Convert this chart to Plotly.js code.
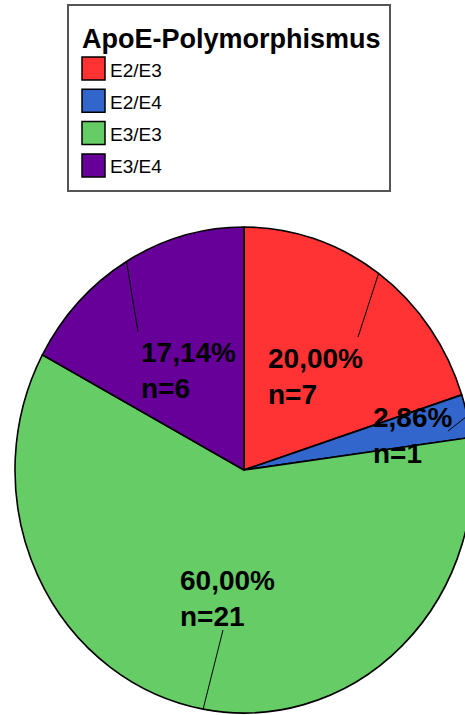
<!DOCTYPE html>
<html>
<head>
<meta charset="utf-8">
<script src="https://cdn.plot.ly/plotly-3.0.1.min.js"></script>
<style>
html,body{margin:0;padding:0;overflow:hidden;background:#fff;width:465px;height:715px;}
#chart{width:520px;height:715px;}
</style>
</head>
<body>
<div id="chart"></div>
<script>
// ---- data ----
const categories = ["E2/E3", "E2/E4", "E3/E3", "E3/E4"];
const counts = [7, 1, 21, 6];
const colors = ["#FF3333", "#3366CC", "#66CC66", "#660099"];
const legendTitle = "ApoE-Polymorphismus";

// ---- layout helpers (pixels -> paper) ----
const W = 520, H = 715;
const px = x => x / W;
const py = y => 1 - y / H;

const cx = 244, cy = 470, R = 229;   // horizontal radius
const K = 243 / 229;                 // vertical stretch of the original picture
const total = counts.reduce((a, b) => a + b, 0);
const pctText = counts.map(c => (c / total * 100).toFixed(2).replace('.', ',') + '%');

// label placement (left edge, vertical middle) and inner end of leader lines
const labelPos = [[266, 377], [371, 435], [178, 598], [139, 370]];
const leaderInner = [[358, 337], [448, 431], [223, 630], [138, 332]];

const annotations = [];
const shapes = [];
const FONT = 'Liberation Sans, Arial, sans-serif';

// slice labels
counts.forEach((c, i) => {
  annotations.push({
    xref: 'paper', yref: 'paper',
    x: px(labelPos[i][0]), y: py(labelPos[i][1]),
    xanchor: 'left', yanchor: 'middle', align: 'left',
    showarrow: false,
    text: pctText[i] + '<br>n=' + c,
    font: {family: FONT, size: 28, color: '#000', weight: 'bold'}
  });
});

// leader lines: from label toward the slice's mid-angle at the rim
let cum = 0;
counts.forEach((c, i) => {
  const mid = (cum + c / 2) / total * 2 * Math.PI;
  cum += c;
  const ox = cx + R * Math.sin(mid), oy = cy - K * R * Math.cos(mid);
  shapes.push({
    type: 'line', xref: 'paper', yref: 'paper',
    x0: px(leaderInner[i][0]), y0: py(leaderInner[i][1]),
    x1: px(ox), y1: py(oy),
    line: {color: '#000', width: 1}
  });
});

// legend box
shapes.push({
  type: 'rect', xref: 'paper', yref: 'paper',
  x0: px(68), x1: px(390), y0: py(5), y1: py(191),
  line: {color: '#555', width: 2}, fillcolor: 'rgba(0,0,0,0)'
});
annotations.push({
  xref: 'paper', yref: 'paper', x: px(80), y: py(39),
  xanchor: 'left', yanchor: 'middle', showarrow: false,
  text: legendTitle,
  font: {family: FONT, size: 27, color: '#000', weight: 'bold'}
});
categories.forEach((cat, i) => {
  const yc = 68.5 + i * 32.3;
  shapes.push({
    type: 'rect', xref: 'paper', yref: 'paper',
    x0: px(82), x1: px(105), y0: py(yc - 11.5), y1: py(yc + 11.5),
    line: {color: '#000', width: 1.5}, fillcolor: colors[i]
  });
  annotations.push({
    xref: 'paper', yref: 'paper', x: px(108), y: py(yc + 1.5),
    xanchor: 'left', yanchor: 'middle', showarrow: false,
    text: cat,
    font: {family: FONT, size: 19, color: '#000'}
  });
});

const trace = {
  type: 'pie',
  labels: categories,
  values: counts,
  sort: false,
  direction: 'clockwise',
  rotation: 0,
  textinfo: 'none',
  hoverinfo: 'label+value+percent',
  showlegend: false,
  marker: {colors: colors, line: {color: '#000', width: 1.6}},
  domain: {x: [px(cx - R), px(cx + R)], y: [py(cy + R), py(cy - R)]}
};

const layout = {
  width: W, height: H,
  margin: {l: 0, r: 0, t: 0, b: 0},
  paper_bgcolor: '#fff',
  showlegend: false,
  annotations: annotations,
  shapes: shapes
};

Plotly.newPlot('chart', [trace], layout, {displayModeBar: false, staticPlot: true}).then(() => {
  // the original picture is slightly stretched vertically: reproduce it
  document.querySelectorAll('.pielayer').forEach(g => {
    const prev = g.getAttribute('transform') || '';
    g.setAttribute('transform',
      `translate(${cx},${cy}) scale(1,${K}) translate(${-cx},${-cy}) ${prev}`);
  });
});
</script>
</body>
</html>
